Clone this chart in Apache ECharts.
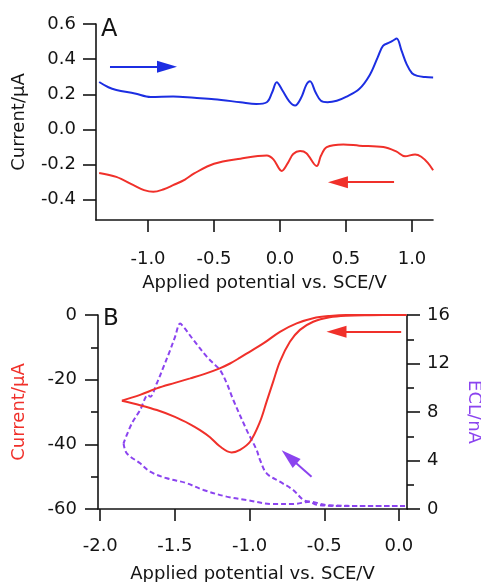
<!DOCTYPE html>
<html>
<head>
<meta charset="utf-8">
<script src="https://cdn.jsdelivr.net/npm/echarts@6/dist/echarts.min.js"></script>
<style>
html, body { margin: 0; padding: 0; background: #fff; }
#chart { width: 481px; height: 582px; }
</style>
</head>
<body>
<div id="chart"></div>
<script>
// panel A, [potential V, current uA]
const scanOxA = [
  [-1.37, 0.27], [-1.30, 0.24], [-1.24, 0.225], [-1.1, 0.205], [-0.98, 0.185], [-0.81, 0.188],
  [-0.65, 0.18], [-0.5, 0.172], [-0.3, 0.155], [-0.18, 0.145], [-0.1, 0.155], [-0.06, 0.21],
  [-0.025, 0.268], [0.02, 0.22], [0.07, 0.16], [0.114, 0.136], [0.16, 0.18], [0.2, 0.255],
  [0.227, 0.274], [0.27, 0.21], [0.31, 0.163], [0.36, 0.155], [0.43, 0.163], [0.5, 0.185],
  [0.6, 0.23], [0.68, 0.31], [0.74, 0.41], [0.78, 0.475], [0.83, 0.495], [0.855, 0.505],
  [0.884, 0.517], [0.92, 0.45], [0.96, 0.37], [1.0, 0.32], [1.04, 0.305], [1.1, 0.298], [1.16, 0.295]
];
const scanRedA = [
  [-1.37, -0.247], [-1.24, -0.27], [-1.11, -0.317], [-1.03, -0.345], [-0.96, -0.355], [-0.88, -0.34],
  [-0.81, -0.317], [-0.72, -0.285], [-0.65, -0.25], [-0.5, -0.195], [-0.3, -0.166], [-0.1, -0.148],
  [-0.05, -0.17], [0.013, -0.236], [0.06, -0.19], [0.1, -0.14], [0.152, -0.123], [0.2, -0.135],
  [0.278, -0.208], [0.31, -0.15], [0.354, -0.1], [0.48, -0.085], [0.6, -0.092], [0.783, -0.1],
  [0.88, -0.125], [0.947, -0.153], [1.023, -0.142], [1.07, -0.155], [1.12, -0.19], [1.16, -0.232]
];

// panel B current, [potential V, current uA]
const cvForwardB = [
  [0.05, 0], [-0.2, -0.05], [-0.351, -0.2], [-0.463, -0.7], [-0.574, -2.1], [-0.663, -4.6],
  [-0.73, -8.3], [-0.797, -14.4], [-0.842, -20.6], [-0.886, -26.8], [-0.93, -33], [-0.997, -39.2],
  [-1.064, -41.7], [-1.12, -42.5], [-1.2, -40.6], [-1.265, -37.8], [-1.332, -35.6], [-1.398, -33.8],
  [-1.5, -31.5], [-1.621, -29.4], [-1.733, -27.9], [-1.855, -26.5]
];
const cvReverseB = [
  [-1.855, -26.5], [-1.733, -24.7], [-1.621, -22.7], [-1.5, -21.0], [-1.398, -19.6], [-1.3, -18.2],
  [-1.2, -16.5], [-1.131, -15.0], [-1.064, -13.2], [-0.997, -11.3], [-0.908, -8.8], [-0.797, -5.2],
  [-0.685, -2.6], [-0.574, -1.0], [-0.463, -0.3], [-0.351, 0], [0.05, 0]
];
// panel B ECL, [potential V, ECL nA]
const eclForwardB = [
  [0.04, 0.25], [-0.2, 0.25], [-0.4, 0.25], [-0.55, 0.35], [-0.596, 0.6], [-0.64, 0.74],
  [-0.708, 1.57], [-0.797, 2.25], [-0.886, 2.94], [-0.93, 4.04], [-0.953, 4.87], [-0.997, 5.96],
  [-1.02, 6.52], [-1.109, 8.99], [-1.153, 10.37], [-1.198, 11.46], [-1.25, 12.1], [-1.287, 12.56],
  [-1.376, 13.94], [-1.443, 15.03], [-1.465, 15.3], [-1.499, 14.2], [-1.532, 13.1], [-1.577, 11.7],
  [-1.621, 10.37], [-1.666, 9.26], [-1.68, 9.4], [-1.733, 8.16], [-1.788, 7.07], [-1.844, 5.42]
];
const eclReverseB = [
  [-1.844, 5.42], [-1.822, 4.59], [-1.733, 3.77], [-1.666, 3.08], [-1.554, 2.53], [-1.432, 2.17],
  [-1.309, 1.57], [-1.153, 1.02], [-1.02, 0.74], [-0.842, 0.41], [-0.708, 0.41], [-0.596, 0.6],
  [-0.485, 0.33], [-0.2, 0.25], [0.04, 0.25]
];

// arrows, [[x0, y0], [x1, y1]]
const arrowOxA = [[-1.288, 0.357], [-0.856, 0.357]];
const arrowRedA = [[0.864, -0.30], [0.439, -0.30]];
const arrowCvB = [[0.015, -5.2], [-0.418, -5.2]];
const arrowEclB = [[-0.585, 2.66], [-0.735, 4.29]];

// tick labels
const ticksXA = [-1.0, -0.5, 0.0, 0.5, 1.0];
const ticksYA = [-0.4, -0.2, 0.0, 0.2, 0.4, 0.6];
const ticksXB = [-2.0, -1.5, -1.0, -0.5, 0.0];

const BLUE = '#1c2ee2';
const RED = '#f0302a';
const PURPLE = '#8b44ef';
const INK = '#141414';
const FS = 18;

const myChart = echarts.init(document.getElementById('chart'));

const axisBase = (extra) => Object.assign({
  type: 'value',
  splitLine: { show: false },
  axisLine: { show: true, onZero: false, lineStyle: { color: INK, width: 1.6 } },
  axisTick: { show: true, inside: false, length: 12, lineStyle: { color: INK, width: 1.6 } },
  axisLabel: { color: INK, fontSize: FS },
  nameLocation: 'middle',
  nameTextStyle: { color: INK, fontSize: FS }
}, extra);

const arrow = (coords, color, xi, yi) => ({
  type: 'lines',
  coordinateSystem: 'cartesian2d',
  xAxisIndex: xi,
  yAxisIndex: yi,
  symbol: ['none', 'triangle'],
  symbolSize: [0, [12, 20]],
  lineStyle: { color: color, width: 2, opacity: 1 },
  data: [{ coords: coords }],
  z: 5
});

const curve = (data, color, xi, yi, dashed) => ({
  type: 'line',
  xAxisIndex: xi,
  yAxisIndex: yi,
  data: data,
  showSymbol: false,
  symbol: 'none',
  smooth: 0.35,
  lineStyle: { color: color, width: 2, type: dashed ? [5, 3] : 'solid' },
  z: 3
});

const option = {
  animation: false,
  backgroundColor: '#fff',
  textStyle: { fontFamily: 'DejaVu Sans' },
  grid: [
    { left: 96, top: 24, right: 48, height: 196, outerBoundsMode: 'none' },
    { left: 98, top: 315, right: 74, height: 194, outerBoundsMode: 'none' }
  ],
  xAxis: [
    axisBase({
      gridIndex: 0, min: -1.394, max: 1.159,
      axisTick: { show: true, length: 12, customValues: ticksXA, lineStyle: { color: INK, width: 1.6 } },
      axisLabel: { color: INK, fontSize: FS, margin: 30, customValues: ticksXA, formatter: v => v.toFixed(1) },
      name: 'Applied potential vs. SCE/V', nameGap: 54
    }),
    axisBase({
      gridIndex: 1, min: -2.015, max: 0.054,
      axisTick: { show: true, length: 12, customValues: ticksXB, lineStyle: { color: INK, width: 1.6 } },
      axisLabel: { color: INK, fontSize: FS, margin: 28, customValues: ticksXB, formatter: v => v.toFixed(1) },
      name: 'Applied potential vs. SCE/V', nameGap: 56
    })
  ],
  yAxis: [
    axisBase({
      gridIndex: 0, min: -0.515, max: 0.6,
      axisTick: { show: true, length: 13, customValues: ticksYA, lineStyle: { color: INK, width: 1.6 } },
      axisLabel: { color: INK, fontSize: FS, margin: 20, customValues: ticksYA, formatter: v => v.toFixed(1) },
      name: 'Current/\u03bcA', nameGap: 68, nameRotate: 90
    }),
    axisBase({
      gridIndex: 1, min: -60, max: 0, interval: 20,
      axisTick: { show: true, length: 13, lineStyle: { color: INK, width: 1.6 } },
      minorTick: { show: true, splitNumber: 2, length: 7, lineStyle: { color: INK, width: 1.6 } },
      axisLabel: { color: INK, fontSize: FS, margin: 21 },
      name: 'Current/\u03bcA', nameGap: 70, nameRotate: 90,
      nameTextStyle: { color: RED, fontSize: FS }
    }),
    axisBase({
      gridIndex: 1, position: 'right', min: 0, max: 16, interval: 4,
      axisTick: { show: true, length: 13, lineStyle: { color: INK, width: 1.6 } },
      minorTick: { show: true, splitNumber: 2, length: 7, lineStyle: { color: INK, width: 1.6 } },
      axisLabel: { color: INK, fontSize: FS, margin: 20 },
      name: 'ECL/nA', nameGap: 58, nameRotate: -90,
      nameTextStyle: { color: PURPLE, fontSize: FS }
    })
  ],
  graphic: [
    { type: 'text', left: 101, top: 18, style: { text: 'A', fontSize: 24, fill: INK, fontFamily: 'DejaVu Sans' } },
    { type: 'text', left: 103, top: 308, style: { text: 'B', fontSize: 23, fill: INK, fontFamily: 'DejaVu Sans' } }
  ],
  series: [
    curve(scanOxA, BLUE, 0, 0),
    curve(scanRedA, RED, 0, 0),
    curve(eclForwardB, PURPLE, 1, 2, true),
    curve(eclReverseB, PURPLE, 1, 2, true),
    curve(cvForwardB, RED, 1, 1),
    curve(cvReverseB, RED, 1, 1),
    arrow(arrowOxA, BLUE, 0, 0),
    arrow(arrowRedA, RED, 0, 0),
    arrow(arrowCvB, RED, 1, 1),
    arrow(arrowEclB, PURPLE, 1, 2)
  ]
};

myChart.setOption(option);
</script>
</body>
</html>
